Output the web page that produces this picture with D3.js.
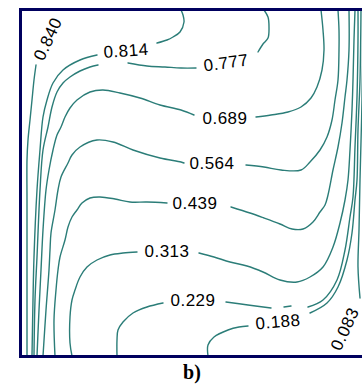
<!DOCTYPE html>
<html>
<head>
<meta charset="utf-8">
<script src="https://cdn.jsdelivr.net/npm/d3@7"></script>
<style>
  html, body { margin: 0; padding: 0; background: #fff; }
  svg { display: block; }
</style>
</head>
<body>
<svg id="chart" width="362" height="385"></svg>
<script>
// Contour levels (as labelled in the picture)
const levels = ["0.840", "0.814", "0.777", "0.689", "0.564", "0.439", "0.313", "0.229", "0.188", "0.083"];

// Contour polylines, in grid units (x to the right, y downward from the top edge; grid 0..346)
const c0840 = [[[15,55],[13,70],[11,90],[9,110],[7,130],[6,150],[6,190],[6,250],[6,310],[6,346]]];
const c0814 = [
  [[76,45],[59,50],[42,60],[32,73],[26,90],[22,107],[19,140],[16,180],[13,247],[12,290],[11,346]],
  [[136,33],[146,30],[152,27],[159,22],[163,12],[162,5],[160,0]]
];
const c0777 = [
  [[77,55],[69,57],[59,61],[49,67],[42,73],[36,82],[31,97],[27,117],[22,140],[19,180],[16,247],[14,290],[13,346]],
  [[107,53],[126,56],[144,57],[160,58],[175,58]],
  [[237,42],[242,34],[247,28],[248,17],[247,7],[243,0]]
];
const c0689 = [
  [[173,105],[160,100],[139,95],[119,88],[99,83],[82,80],[69,82],[56,90],[49,98],[44,107],[40,117],[36,125],[32,140],[28,160],[25,180],[22,220],[20,260],[18,300],[16,346]],
  [[235,107],[250,105],[267,102],[280,97],[290,88],[296,77],[301,60],[303,40],[302,20],[300,0]]
];
const c0564 = [
  [[163,153],[160,152],[139,148],[112,140],[92,132],[76,130],[59,137],[51,145],[47,153],[40,167],[37,180],[34,200],[30,223],[29,240],[28,260],[25,300],[22,346]],
  [[225,155],[243,157],[260,160],[280,160],[289,152],[299,140],[306,127],[311,110],[314,90],[317,70],[318,40],[318,20],[317,0]]
];
const c0439 = [
  [[146,193],[126,192],[109,192],[94,189],[79,187],[69,188],[61,193],[56,200],[51,207],[47,217],[44,230],[39,247],[37,260],[35,280],[33,310],[34,346]],
  [[210,197],[229,203],[243,208],[259,214],[271,219],[282,219],[292,212],[299,202],[304,195],[307,185],[312,160],[317,137],[321,113],[324,87],[326,70],[328,40],[328,0]]
];
const c0313 = [
  [[116,242],[102,243],[89,245],[76,250],[66,257],[59,267],[54,280],[51,290],[49,307],[49,333],[51,346]],
  [[178,243],[193,247],[209,252],[226,256],[242,262],[259,270],[276,272],[289,267],[302,257],[312,237],[319,213],[324,190],[327,170],[329,140],[331,100],[332,70],[333,30],[334,0]]
];
const c0229 = [
  [[142,293],[126,297],[112,303],[102,312],[97,320],[96,330],[96,346]],
  [[205,292],[227,295],[250,298]],
  [[263,297],[270,296]],
  [[287,297],[302,290],[316,270],[324,240],[329,207],[332,187],[334,137],[336,87],[337,30],[337,0]]
];
const c0188 = [
  [[227,316],[218,317],[207,320],[193,327],[187,335],[187,346]],
  [[289,303],[306,293],[317,277],[326,250],[331,223],[334,190],[336,170],[337,120],[339,70],[340,0]]
];
const c0083 = [[[339,288],[337,257],[338,220],[339,170],[341,90],[342,0]]];

const contourLines = [c0840, c0814, c0777, c0689, c0564, c0439, c0313, c0229, c0188, c0083];

// Label anchors (grid units) and rotation (degrees)
const labelX = [27, 105, 205, 204, 191, 174, 146, 172, 257, 324];
const labelY = [29, 41, 53, 108, 153, 193, 241, 290, 312, 319];
const labelAngle = [-65, -4, -8, 0, 0, 0, 0, 0, -5, -65];

const caption = "b)";

// ---- drawing ----
const svg = d3.select("#chart");
const m = { left: 21, top: 10 };
const size = 346;

const x = d3.scaleLinear().domain([0, 346]).range([m.left, m.left + size]);
const y = d3.scaleLinear().domain([0, 346]).range([m.top, m.top + size]);

svg.append("defs").append("clipPath").attr("id", "plotclip")
  .append("rect").attr("x", m.left).attr("y", m.top).attr("width", size).attr("height", size);

const line = d3.line()
  .x(d => x(d[0]))
  .y(d => y(d[1]))
  .curve(d3.curveCatmullRom.alpha(0.5));

const g = svg.append("g").attr("clip-path", "url(#plotclip)");

contourLines.forEach((segs, i) => {
  g.selectAll(null)
    .data(segs)
    .enter()
    .append("path")
    .attr("d", line)
    .attr("fill", "none")
    .attr("stroke", "#2b7d78")
    .attr("stroke-width", 1.4)
    .attr("stroke-linejoin", "round")
    .attr("stroke-linecap", "round");
});

const labels = levels.map((t, i) => ({ t, x: labelX[i], y: labelY[i], a: labelAngle[i] }));

svg.selectAll("text.lab")
  .data(labels)
  .enter()
  .append("text")
  .attr("class", "lab")
  .attr("transform", d => `translate(${x(d.x)},${y(d.y)}) rotate(${d.a})`)
  .attr("text-anchor", "middle")
  .attr("dominant-baseline", "central")
  .attr("font-family", "'Liberation Sans', Arial, sans-serif")
  .attr("font-size", 17)
  .attr("letter-spacing", 0.5)
  .attr("fill", "#000")
  .text(d => d.t);

// Frame
svg.append("rect")
  .attr("x", m.left - 0.5)
  .attr("y", m.top - 0.5)
  .attr("width", size + 1)
  .attr("height", size + 1)
  .attr("fill", "none")
  .attr("stroke", "#00005e")
  .attr("stroke-width", 3);

// Caption
svg.append("text")
  .attr("x", 192)
  .attr("y", 379)
  .attr("text-anchor", "middle")
  .attr("font-family", "'Liberation Serif', 'Times New Roman', serif")
  .attr("font-weight", "bold")
  .attr("font-size", 20)
  .attr("fill", "#000")
  .text(caption);
</script>
</body>
</html>
